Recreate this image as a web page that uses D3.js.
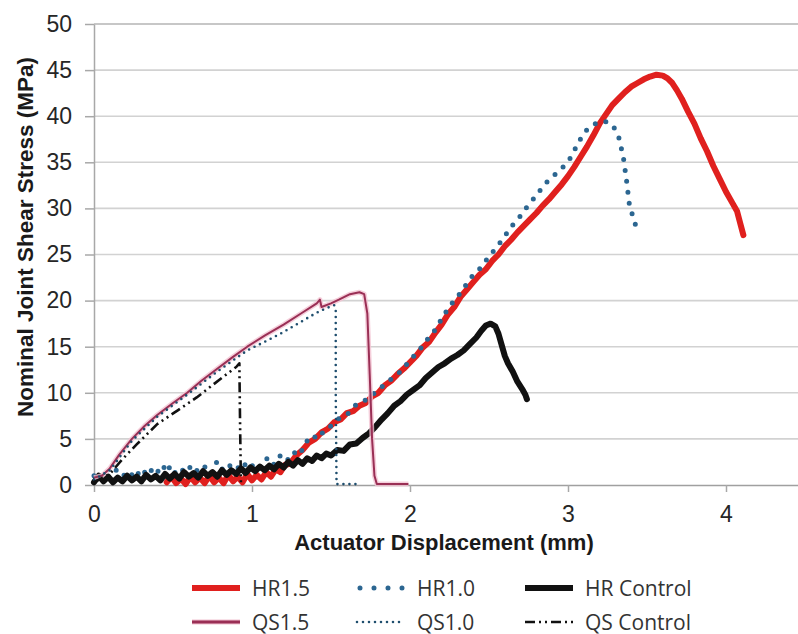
<!DOCTYPE html>
<html><head><meta charset="utf-8">
<script src="https://cdn.jsdelivr.net/npm/d3@7"></script>
<style>body{margin:0;background:#fff}</style></head>
<body><svg id="c" width="798" height="634"></svg>
<script>
const seriesNames = ["HR1.5","HR1.0","HR Control","QS1.5","QS1.0","QS Control"];
const xTicks = [0,1,2,3,4];
const yTicks = [0,5,10,15,20,25,30,35,40,45,50];
const xTitle = "Actuator Displacement (mm)";
const yTitle = "Nominal Joint Shear Stress (MPa)";

const hr15 = [[0.46,0.3],[0.49,0.9],[0.52,0.2],[0.55,0.7],[0.58,0.1],[0.61,0.9],[0.64,0.3],[0.67,0.8],[0.70,0.2],[0.73,1.0],[0.76,0.3],[0.79,0.8],[0.82,0.2],[0.85,1.1],[0.88,0.4],[0.91,0.9],[0.94,0.3],[0.97,1.2],[1.00,0.5],[1.03,1.1],[1.06,0.6],[1.09,1.4],[1.12,0.9],[1.15,1.7],[1.18,1.4],[1.21,2.2],[1.24,2.3],[1.28,3.2],[1.32,3.8],[1.36,4.6],[1.40,5.0],[1.44,5.7],[1.48,6.1],[1.52,6.8],[1.56,7.1],[1.60,7.8],[1.64,8.0],[1.68,8.6],[1.72,8.9],[1.76,9.6],[1.80,10.0],[1.84,10.8],[1.88,11.3],[1.92,12.0],[1.96,12.6],[2.00,13.3],[2.04,14.0],[2.08,14.9],[2.12,15.5],[2.16,16.5],[2.20,17.4],[2.24,18.5],[2.28,19.3],[2.32,20.4],[2.36,21.2],[2.40,22.0],[2.44,22.8],[2.48,23.4],[2.52,24.3],[2.56,25.0],[2.60,25.9],[2.64,26.6],[2.68,27.4],[2.72,28.1],[2.76,28.8],[2.80,29.5],[2.84,30.3],[2.88,31.0],[2.92,31.8],[2.96,32.6],[3.00,33.5],[3.04,34.5],[3.08,35.6],[3.12,36.7],[3.16,37.9],[3.20,39.2],[3.24,40.2],[3.28,41.2],[3.32,41.9],[3.36,42.6],[3.40,43.2],[3.44,43.6],[3.48,44.0],[3.52,44.3],[3.56,44.5],[3.60,44.4],[3.63,44.1],[3.66,43.6],[3.69,42.8],[3.72,41.9],[3.76,40.5],[3.80,39.2],[3.84,37.6],[3.88,36.2],[3.92,34.6],[3.96,33.2],[4.00,31.8],[4.04,30.6],[4.07,29.7],[4.09,28.4],[4.11,27.1]];

const hr10 = [[0,1.0],[0.03,0.5],[0.06,1.3],[0.10,0.8],[0.14,1.6],[0.18,0.9],[0.22,1.5],[0.26,0.7],[0.30,1.8],[0.34,1.0],[0.38,2.0],[0.42,1.2],[0.46,2.4],[0.50,1.1],[0.54,1.9],[0.58,1.3],[0.62,2.2],[0.66,1.4],[0.70,2.0],[0.74,1.2],[0.78,2.6],[0.82,1.5],[0.86,2.1],[0.90,1.6],[0.94,2.5],[0.98,1.7],[1.02,2.4],[1.06,1.9],[1.10,3.0],[1.14,2.2],[1.18,3.2],[1.22,2.6],[1.26,3.6],[1.30,3.2],[1.34,4.6],[1.38,5.4],[1.42,5.0],[1.46,6.0],[1.50,6.4],[1.55,7.2],[1.60,7.6],[1.65,8.6],[1.70,9.0],[1.75,9.6],[1.80,10.4],[1.85,11.0],[1.90,11.8],[1.95,12.4],[2.00,13.6],[2.05,14.4],[2.10,15.6],[2.15,16.6],[2.20,18.0],[2.25,19.4],[2.30,20.4],[2.35,21.6],[2.40,22.8],[2.45,23.6],[2.50,24.8],[2.55,25.8],[2.60,27.0],[2.65,28.2],[2.70,29.2],[2.75,30.4],[2.80,31.4],[2.85,32.6],[2.90,33.4],[2.95,34.2],[3.00,35.0],[3.05,36.6],[3.10,38.2],[3.15,39.0],[3.20,39.4],[3.25,39.4],[3.29,38.8],[3.32,37.8],[3.35,35.6],[3.37,33.1],[3.39,30.2],[3.42,28.7],[3.44,27.3]];

const hrControl = [[0,0.3],[0.03,1.0],[0.06,0.4],[0.09,0.9],[0.12,0.3],[0.15,0.8],[0.18,0.4],[0.21,1.0],[0.24,0.5],[0.27,0.9],[0.30,0.4],[0.33,1.1],[0.36,0.6],[0.39,1.0],[0.42,0.5],[0.45,1.2],[0.48,0.7],[0.51,1.2],[0.54,0.7],[0.57,1.4],[0.60,0.9],[0.63,1.3],[0.66,0.8],[0.69,1.5],[0.72,1.0],[0.75,1.4],[0.78,0.9],[0.81,1.6],[0.84,1.1],[0.87,1.6],[0.90,1.2],[0.93,1.8],[0.96,1.3],[0.99,1.9],[1.02,1.5],[1.05,2.0],[1.08,1.6],[1.11,2.1],[1.14,1.7],[1.17,2.3],[1.20,1.9],[1.23,2.5],[1.26,2.1],[1.29,2.7],[1.32,2.3],[1.35,2.9],[1.38,2.6],[1.41,3.2],[1.44,2.9],[1.47,3.4],[1.50,3.2],[1.54,3.8],[1.58,3.7],[1.62,4.4],[1.66,4.5],[1.70,5.1],[1.74,5.6],[1.78,6.3],[1.82,7.1],[1.86,7.8],[1.90,8.6],[1.94,9.1],[1.98,9.8],[2.02,10.3],[2.06,10.8],[2.10,11.6],[2.14,12.2],[2.18,12.8],[2.22,13.2],[2.26,13.7],[2.30,14.1],[2.34,14.6],[2.38,15.3],[2.42,16.0],[2.45,16.7],[2.48,17.3],[2.51,17.5],[2.54,17.2],[2.56,16.4],[2.58,15.2],[2.60,14.0],[2.62,13.2],[2.65,12.3],[2.68,11.2],[2.71,10.4],[2.73,9.8],[2.74,9.3]];

const qs15 = [[0,0.8],[0.05,1.0],[0.10,1.8],[0.16,3.3],[0.24,5.0],[0.32,6.4],[0.40,7.6],[0.50,8.9],[0.59,10.0],[0.68,11.3],[0.78,12.6],[0.88,13.9],[0.97,15.0],[1.08,16.2],[1.20,17.4],[1.31,18.6],[1.41,19.7],[1.43,20.1],[1.44,19.3],[1.50,19.7],[1.55,20.1],[1.62,20.7],[1.68,20.9],[1.71,20.7],[1.73,18.6],[1.745,12.0],[1.76,5.0],[1.775,1.0],[1.79,0.1],[1.99,0.1]];

const qs10 = [[0,0.6],[0.10,1.6],[0.24,4.8],[0.40,7.4],[0.59,9.8],[0.78,12.3],[0.97,14.6],[1.10,15.7],[1.20,16.6],[1.30,17.6],[1.40,18.6],[1.46,19.1],[1.52,19.5],[1.53,19.0],[1.53,10.0],[1.535,0.1],[1.66,0.1]];

const qsControl = [[0,0.3],[0.10,1.2],[0.18,2.8],[0.27,4.4],[0.40,6.6],[0.53,8.1],[0.65,9.5],[0.80,11.5],[0.90,12.8],[0.92,13.2],[0.925,6.0],[0.93,0.1]];

const seriesData = [hr15, hr10, hrControl, qs15, qs10, qsControl];
const seriesStyle = [
  {stroke:"#e0201e", width:6, dash:null, cap:"round"},
  {stroke:"#2c6691", width:5, dash:"0 11", cap:"round"},
  {stroke:"#111111", width:6, dash:null, cap:"round"},
  {stroke:"#9a2f55", width:2, dash:null, cap:"butt", halo:"#f2c3d2"},
  {stroke:"#1f4e6e", width:2.6, dash:"0 6", cap:"round"},
  {stroke:"#111111", width:2.6, dash:"10 4 2 4 2 4", cap:"butt"}
];

const W = 798, H = 634;
const svg = d3.select("#c");
const x = d3.scaleLinear().domain([0,4.5]).range([94, 805]);
const y = d3.scaleLinear().domain([0,50]).range([485,24]);
const FONT = "'Liberation Sans', Arial, sans-serif";

// grid
svg.append("g").selectAll("line").data(yTicks.filter(d=>d>0)).join("line")
  .attr("x1",x(0)).attr("x2",W).attr("y1",d=>y(d)).attr("y2",d=>y(d))
  .attr("stroke",d=>d===50?"#b4b4b4":"#d2d2d2").attr("stroke-width",1.6);

// y axis
const gy = svg.append("g").attr("transform",`translate(${x(0)},0)`)
  .call(d3.axisLeft(y).tickValues(yTicks).tickSize(9).tickSizeOuter(0).tickPadding(13));
gy.select(".domain").attr("stroke","#a8a8a8").attr("stroke-width",1.5);
gy.selectAll(".tick line").attr("stroke","#a8a8a8").attr("stroke-width",1.5);
gy.selectAll(".tick text").attr("font-family",FONT).attr("font-size",23).attr("fill","#262626");

// x axis
const gx = svg.append("g").attr("transform",`translate(0,${y(0)})`)
  .call(d3.axisBottom(x).tickValues(xTicks).tickSize(7).tickSizeOuter(0).tickPadding(14).tickFormat(d3.format("d")));
gx.select(".domain").attr("stroke","#a0a0a0").attr("stroke-width",1.6);
gx.selectAll(".tick line").attr("stroke","#a8a8a8").attr("stroke-width",1.5);
gx.selectAll(".tick text").attr("font-family",FONT).attr("font-size",23).attr("fill","#262626");

// titles
svg.append("text").attr("x",444).attr("y",550).attr("text-anchor","middle")
  .attr("font-family",FONT).attr("font-weight","bold").attr("font-size",22).attr("fill","#1a1a1a").text(xTitle);
svg.append("text").attr("transform","rotate(-90)").attr("x",-237).attr("y",33).attr("text-anchor","middle")
  .attr("font-family",FONT).attr("font-weight","bold").attr("font-size",22.5).attr("fill","#1a1a1a").text(yTitle);

// series
const line = d3.line().x(d=>x(d[0])).y(d=>y(d[1]));
const gs = svg.append("g");
seriesData.forEach((data,i)=>{
  const s = seriesStyle[i];
  if (s.halo) gs.append("path").attr("d",line(data)).attr("fill","none")
      .attr("stroke",s.halo).attr("stroke-width",5).attr("stroke-linejoin","round").attr("opacity",0.8);
  gs.append("path").attr("d",line(data)).attr("fill","none")
    .attr("stroke",s.stroke).attr("stroke-width",s.width)
    .attr("stroke-linejoin","round").attr("stroke-linecap",s.cap)
    .attr("stroke-dasharray",s.dash);
});

// legend
const legCols = [192,357,525], legRows = [588,622];
const gl = svg.append("g");
seriesNames.forEach((name,i)=>{
  const s = seriesStyle[i];
  const cx = legCols[i%3], cy = legRows[Math.floor(i/3)];
  if (s.halo) gl.append("line").attr("x1",cx).attr("x2",cx+48).attr("y1",cy).attr("y2",cy)
      .attr("stroke",s.halo).attr("stroke-width",5);
  gl.append("line").attr("x1",cx+(s.dash==="0 11"?3:0)).attr("x2",cx+48).attr("y1",cy).attr("y2",cy)
    .attr("stroke",s.stroke).attr("stroke-width",i===3?3:s.width)
    .attr("stroke-linecap",s.cap==="round"&&!s.dash?"butt":s.cap)
    .attr("stroke-dasharray",s.dash==="0 11"?"0 14":s.dash);
  gl.append("text").attr("x",cx+60).attr("y",cy+7.5)
    .attr("font-family","'Open Sans', sans-serif").attr("font-size",21).attr("fill","#333")
    .text(name);
});
</script></body></html>
